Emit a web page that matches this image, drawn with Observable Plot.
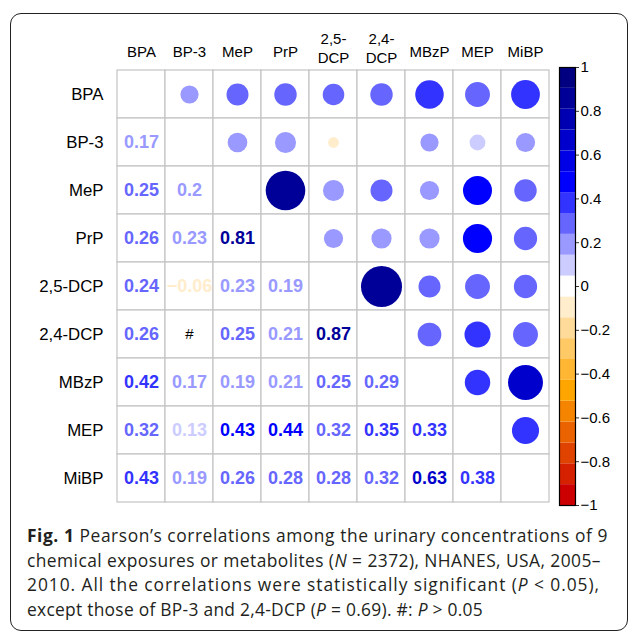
<!DOCTYPE html>
<html>
<head>
<meta charset="utf-8">
<script src="https://cdn.jsdelivr.net/npm/d3@7"></script>
<script src="https://cdn.jsdelivr.net/npm/@observablehq/plot@0.6"></script>
<style>
  html, body { margin: 0; padding: 0; background: #fff; }
  #wrap { position: relative; width: 630px; height: 634px; overflow: hidden; }
  #frame { position: absolute; left: 10px; top: 13px; width: 616px; height: 616px;
           border: 1.6px solid #222; border-radius: 11px; }
  #main, #bar { position: absolute; left: 0; top: 0; }
  #caption { position: absolute; left: 27px; top: 523px; font-family: "Open Sans", sans-serif;
             font-size: 17.4px; line-height: 24.5px; color: #231f20; }
  #caption .ln { display: block; white-space: nowrap; }
  #caption .ln span.m { display: inline-block; }
</style>
</head>
<body>
<div id="wrap">
  <div id="frame"></div>
  <div id="main"></div>
  <div id="bar"></div>
  <div id="caption"><div class="ln"><span class="m" data-w="581"><b>Fig. 1</b> Pearson’s correlations among the urinary concentrations of 9</span></div><div class="ln"><span class="m" data-w="574">chemical exposures or metabolites (<i>N</i> = 2372), NHANES, USA, 2005–</span></div><div class="ln"><span class="m" data-w="573">2010. All the correlations were statistically significant (<i>P</i> &lt; 0.05),</span></div><div class="ln"><span class="m" data-w="456">except those of BP-3 and 2,4-DCP (<i>P</i> = 0.69). #: <i>P</i> &gt; 0.05</span></div></div>
</div>
<script>
// ---- data ----
const variables = ["BPA", "BP-3", "MeP", "PrP", "2,5-DCP", "2,4-DCP", "MBzP", "MEP", "MiBP"];
const columnTickLabels = ["BPA", "BP-3", "MeP", "PrP", "2,5-\nDCP", "2,4-\nDCP", "MBzP", "MEP", "MiBP"];
// lower triangle, row by row (null = not significant, shown as #)
const rowBP3   = [0.17];
const rowMeP   = [0.25, 0.20];
const rowPrP   = [0.26, 0.23, 0.81];
const row25DCP = [0.24, -0.06, 0.23, 0.19];
const row24DCP = [0.26, null, 0.25, 0.21, 0.87];
const rowMBzP  = [0.42, 0.17, 0.19, 0.21, 0.25, 0.29];
const rowMEP   = [0.32, 0.13, 0.434, 0.44, 0.32, 0.35, 0.334];
const rowMiBP  = [0.428, 0.19, 0.26, 0.28, 0.28, 0.32, 0.63, 0.38];
const lowerRows = [[], rowBP3, rowMeP, rowPrP, row25DCP, row24DCP, rowMBzP, rowMEP, rowMiBP];
const paletteColors = ["#CC0000", "#D62100", "#E04200", "#EB6300", "#F58400", "#FFA500", "#FFB733",
  "#FFC966", "#FFDB99", "#FFEDCC", "#FFFFFF", "#CCCCFF", "#9999FF", "#6666FF", "#3333FF",
  "#0000FF", "#0000E6", "#0000CC", "#0000B3", "#000099", "#000080"];
const colorbarTicks = [1, 0.8, 0.6, 0.4, 0.2, 0, -0.2, -0.4, -0.6, -0.8, -1];

// ---- derived tables ----
const nBins = paletteColors.length;
const thresholds = d3.range(1, nBins).map(k => -1 + 2 * k / nBins);
const colorScale = {type: "threshold", domain: thresholds, range: paletteColors};

const cells = [];
const lowerText = [];
const hashCells = [];
const upperDots = [];
variables.forEach((rv, i) => {
  variables.forEach((cv, j) => {
    cells.push({row: rv, col: cv});
    if (j < i) {
      const v = lowerRows[i][j];
      if (v === null) hashCells.push({row: rv, col: cv});
      else {
        lowerText.push({row: rv, col: cv, v});
        upperDots.push({row: cv, col: rv, v});
      }
    }
  });
});
const fmt = d3.format(".2~f");
const colLabelData = variables.map((v, i) => ({col: v, label: columnTickLabels[i]}));
const FONT = "'Liberation Sans', Arial, Helvetica, sans-serif";

const main = Plot.plot({
  width: 560, height: 510,
  marginLeft: 113, marginTop: 67, marginRight: 8, marginBottom: 5,
  style: {fontFamily: FONT, fontSize: "15px", background: "transparent", color: "black"},
  x: {domain: variables, padding: 0, axis: null},
  y: {domain: variables, padding: 0, axis: null},
  color: colorScale,
  r: {type: "sqrt", domain: [0, 1], range: [0, 22]},
  marks: [
    Plot.cell(cells, {x: "col", y: "row", fill: "white", stroke: "#c3c3c3", strokeWidth: 1.2}),
    Plot.dot(upperDots, {x: "col", y: "row", r: d => Math.abs(d.v), fill: d => d.v, stroke: null}),
    Plot.text(lowerText, {x: "col", y: "row", text: d => fmt(d.v), fill: d => d.v, fontWeight: "bold", fontSize: 18, fontFamily: FONT}),
    Plot.text(hashCells, {x: "col", y: "row", text: () => "#", fill: "black", fontSize: 15, fontFamily: FONT}),
    Plot.axisY({tickSize: 0, tickPadding: 10, fontSize: 16.8, fill: "black", label: null, fontFamily: FONT}),
    Plot.text(colLabelData.filter(d => !d.label.includes("\n")), {x: "col", text: "label", frameAnchor: "top", dy: -15, fontSize: 15, lineAnchor: "middle", fill: "black", fontFamily: FONT}),
    Plot.text(colLabelData.filter(d => d.label.includes("\n")), {x: "col", text: "label", frameAnchor: "top", dy: -20, fontSize: 15, lineAnchor: "middle", lineHeight: 1.25, fill: "black", fontFamily: FONT})
  ]
});
document.getElementById("main").appendChild(main);

const bins = paletteColors.map((c, k) => ({y1: -1 + 2 * k / nBins, y2: -1 + 2 * (k + 1) / nBins, c}));
const bar = Plot.plot({
  width: 630, height: 520,
  marginLeft: 559, marginRight: 55, marginTop: 67, marginBottom: 15,
  style: {fontFamily: FONT, fontSize: "15px", background: "transparent", color: "black"},
  y: {domain: [-1, 1], axis: null},
  marks: [
    Plot.rect(bins, {y1: "y1", y2: "y2", fill: "c"}),
    Plot.frame({stroke: "black", strokeWidth: 1.2}),
    Plot.axisY({anchor: "right", ticks: colorbarTicks, tickSize: 3, tickPadding: 2, tickFormat: d3.format("~g"), fontSize: 15, stroke: "#333", fill: "black", label: null, fontFamily: FONT})
  ]
});
document.getElementById("bar").appendChild(bar);

// fit each caption line to the width it has in the figure
function fitCaption() {
  document.querySelectorAll("#caption span.m").forEach(s => {
    s.style.letterSpacing = "0px";
    const target = +s.dataset.w;
    const w = s.getBoundingClientRect().width;
    const n = s.textContent.length;
    s.style.letterSpacing = ((target - w) / n).toFixed(3) + "px";
  });
}
fitCaption();
if (document.fonts && document.fonts.ready) document.fonts.ready.then(fitCaption);
</script>
</body>
</html>
